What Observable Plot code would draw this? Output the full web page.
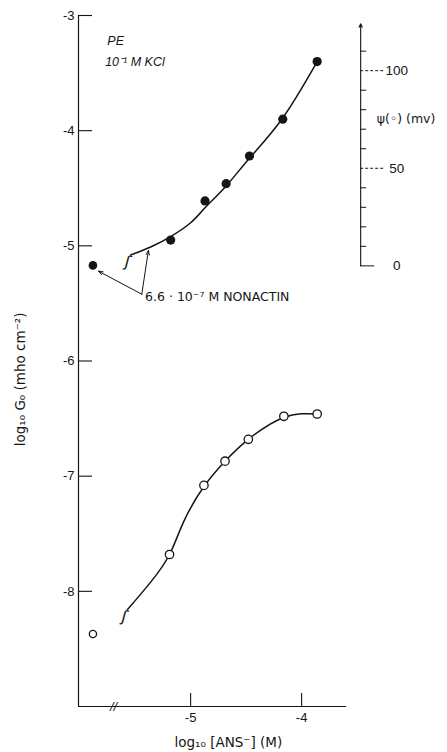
<!DOCTYPE html>
<html><head><meta charset="utf-8">
<script src="https://cdn.jsdelivr.net/npm/d3@7"></script>
<script src="https://cdn.jsdelivr.net/npm/@observablehq/plot@0.6"></script>
<style>
body{margin:0;background:#fff}
svg{display:block}
</style>
</head><body><div id="chart"></div>
<script>
// ---------- data ----------
// nonactin, filled circles: log10 [ANS-] vs log10 G0
const filledX = [-5.18, -4.87, -4.68, -4.47, -4.17, -3.86];
const filledY = [-4.95, -4.61, -4.46, -4.22, -3.90, -3.40];
// open circles (no nonactin)
const openX = [-5.19, -4.88, -4.69, -4.48, -4.16, -3.86];
const openY = [-7.68, -7.08, -6.87, -6.68, -6.48, -6.46];
// control points (no ANS), plotted left of the axis break
const controlX = [-5.88];
const controlFilledY = [-5.17];
const controlOpenY = [-8.37];
// drawn smooth curves
const filledCurveX = [-5.54, -5.36, -5.18, -5.00, -4.87, -4.68, -4.47, -4.17, -3.865];
const filledCurveY = [-5.08, -5.01, -4.92, -4.80, -4.67, -4.48, -4.24, -3.89, -3.41];
const openCurveX = [-5.57, -5.36, -5.19, -5.06, -4.88, -4.69, -4.48, -4.16, -3.865];
const openCurveY = [-8.16, -7.92, -7.68, -7.39, -7.09, -6.87, -6.68, -6.49, -6.46];
// axes
const yTicks = [-3, -4, -5, -6, -7, -8];
const xTicks = [-5, -4];
const psiMinor = [10, 20, 30, 40, 60, 70, 80, 90, 110];
const psiMajor = [50, 100];
const psiLabels = [0, 50, 100];
const mvPerDecade = 59;      // psi(0) scale: 59 mV per decade of G0
const psiZeroLogG = -5.174;  // psi = 0 at the no-ANS conductance

// ---------- layout ----------
const W = 447, H = 752;
const xMin = -6.01, xMax = -2.866, yMin = -9, yMax = -3;
const px = 1 / 111;          // one pixel in x data units
const py = 1 / 115;          // one pixel in y data units
const xAxisEnd = -3.595;
const breakX = -5.694;
const psiX = -3.468;
const psi = p => psiZeroLogG + p / mvPerDecade;
const font = "'Liberation Sans', Arial, Helvetica, sans-serif";
const wide = "'DejaVu Sans', Verdana, sans-serif";
const ink = "#151515";

const pts = (xs, ys) => xs.map((x, i) => ({x, y: ys[i]}));
const squiggles = [
  {x: filledCurveX[0], y: filledCurveY[0]},
  {x: openCurveX[0], y: openCurveY[0]}
];

const chart = Plot.plot({
  width: W, height: H,
  marginLeft: 78, marginRight: 20, marginTop: 15, marginBottom: 46,
  style: {fontFamily: font, fontSize: "13px", color: ink, background: "#fff", overflow: "visible"},
  x: {domain: [xMin, xMax]},
  y: {domain: [yMin, yMax]},
  marks: [
    // axis lines
    Plot.ruleX([xMin], {y1: yMin, y2: yMax, stroke: ink, strokeWidth: 1.2}),
    Plot.ruleY([yMin], {x1: xMin, x2: xAxisEnd, stroke: ink, strokeWidth: 1.2}),
    // inward ticks
    Plot.ruleY(yTicks, {x1: xMin, x2: xMin + 14 * px, stroke: ink, strokeWidth: 1.1}),
    Plot.ruleX(xTicks, {y1: yMin, y2: yMin + 13 * py, stroke: ink, strokeWidth: 1.1}),
    Plot.axisY({ticks: yTicks, tickSize: 0, tickPadding: 4, tickFormat: d => "-" + Math.abs(d), fontSize: 13, fill: ink}),
    Plot.axisX({ticks: xTicks, tickSize: 0, tickPadding: 6, tickFormat: d => "-" + Math.abs(d), fontSize: 13, fill: ink}),
    // axis break
    Plot.text(["//"], {x: breakX, y: yMin, text: d => d, fontSize: 13, fill: ink, fontStyle: "italic"}),
    // axis titles
    Plot.text(["log\u2081\u2080 G\u2080 (mho cm\u207B\u00B2)"], {x: xMin - 58 * px, y: -6.16, text: d => d, rotate: -90, fontSize: 13.5, fontFamily: wide, fill: ink}),
    Plot.text(["log\u2081\u2080 [ANS\u207B] (M)"], {x: -4.66, y: yMin - 36 * py, text: d => d, fontSize: 13.5, fontFamily: wide, fill: ink}),
    // curves
    Plot.line(pts(filledCurveX, filledCurveY), {x: "x", y: "y", curve: "natural", stroke: ink, strokeWidth: 1.5}),
    Plot.line(pts(openCurveX, openCurveY), {x: "x", y: "y", curve: "natural", stroke: ink, strokeWidth: 1.5}),
    // squiggles at curve starts
    Plot.text(squiggles, {x: d => d.x - 3 * px, y: d => d.y - 7 * py, text: () => "\u0283", fontSize: 16, rotate: 15, fontFamily: wide, fill: ink}),
    // points
    Plot.dot(pts(filledX, filledY), {x: "x", y: "y", r: 4.6, fill: ink}),
    Plot.dot(pts(controlX, controlFilledY), {x: "x", y: "y", r: 4.3, fill: ink}),
    Plot.dot(pts(openX, openY), {x: "x", y: "y", r: 4.2, fill: "#fff", stroke: ink, strokeWidth: 1.3}),
    Plot.dot(pts(controlX, controlOpenY), {x: "x", y: "y", r: 3.6, fill: "#fff", stroke: ink, strokeWidth: 1.3}),
    // annotations
    Plot.text(["PE"], {x: -5.75, y: -3.22, text: d => d, textAnchor: "start", fontStyle: "italic", fontSize: 12.5, fill: ink}),
    Plot.text(["10\u207B\u00B9 M KCl"], {x: -5.77, y: -3.40, text: d => d, textAnchor: "start", fontStyle: "italic", fontSize: 12.5, fill: ink}),
    Plot.text(["6.6 \u00B7 10\u207B\u2077 M NONACTIN"], {x: -5.41, y: -5.44, text: d => d, textAnchor: "start", fontSize: 12.5, fontFamily: wide, fill: ink}),
    Plot.arrow([
      {x1: -5.44, y1: -5.42, x2: -5.83, y2: -5.22},
      {x1: -5.44, y1: -5.42, x2: -5.38, y2: -5.04}
    ], {x1: "x1", y1: "y1", x2: "x2", y2: "y2", stroke: ink, strokeWidth: 1, headLength: 7, headAngle: 40}),
    // right-hand psi(0) axis
    Plot.arrow([{y1: psi(0), y2: psi(124)}], {x: () => psiX, y1: "y1", y2: "y2", stroke: ink, strokeWidth: 1.1, headLength: 5, headAngle: 50}),
    Plot.ruleY(psiMinor, {y: psi, x1: psiX, x2: psiX + 6 * px, stroke: ink, strokeWidth: 1}),
    Plot.ruleY(psiMajor, {y: psi, x1: psiX, x2: psiX + 23 * px, stroke: ink, strokeWidth: 1, strokeDasharray: "3,2"}),
    Plot.ruleY([0], {y: psi, x1: psiX, x2: psiX + 14 * px, stroke: ink, strokeWidth: 1}),
    Plot.text(psiLabels, {x: psiX + 36 * px, y: psi, text: d => String(d), fontSize: 13.5, fill: ink}),
    Plot.text(["\u03C8(\u25E6) (mv)"], {x: psiX + 16 * px, y: psi(75), text: d => d, textAnchor: "start", fontSize: 12.5, fontFamily: wide, fill: ink})
  ]
});
document.getElementById("chart").append(chart);
</script>
</body></html>
